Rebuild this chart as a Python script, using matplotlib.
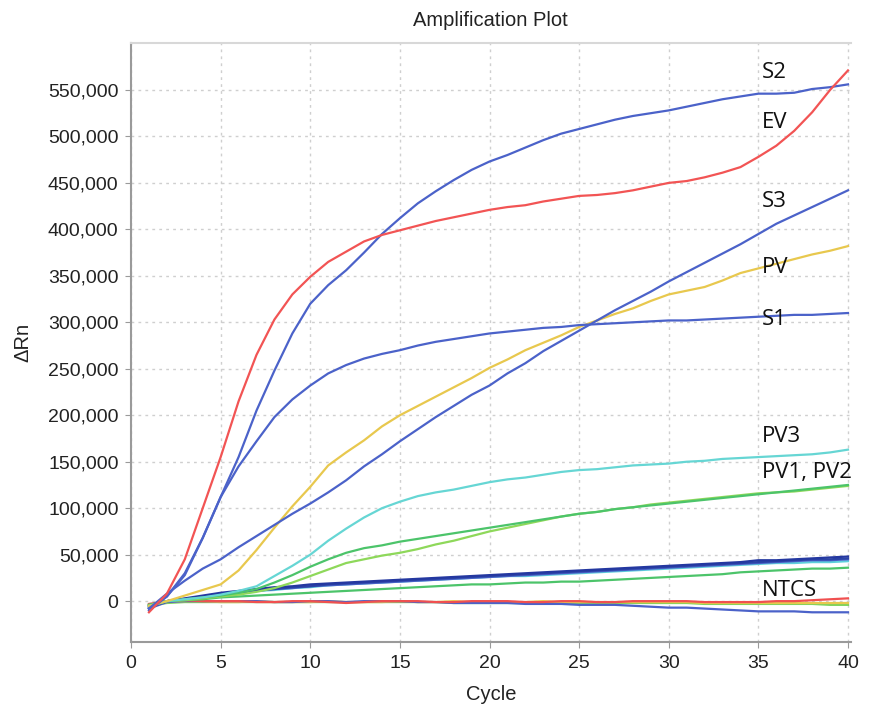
import matplotlib
matplotlib.use("Agg")
import numpy as np
from matplotlib import pyplot as plt
from matplotlib.ticker import FuncFormatter

plt.rcParams['font.family'] = ['Liberation Sans', 'DejaVu Sans']

# Amplification curves, delta Rn in thousands, cycles 1..40
cycles = np.arange(1, 41)

ev = [-12, 8, 45, 100, 155, 215, 265, 303, 330, 349, 365, 376, 387, 394, 399, 404, 409, 413, 417, 421,
      424, 426, 430, 433, 436, 437, 439, 442, 446, 450, 452, 456, 461, 467, 478, 490, 506, 526, 550, 571]
s2 = [-10, 5, 30, 68, 112, 155, 205, 248, 288, 320, 340, 356, 375, 395, 412, 428, 441, 453, 464, 473,
      480, 488, 496, 503, 508, 513, 518, 522, 525, 528, 532, 536, 540, 543, 546, 546, 547, 551, 553, 556]
s3 = [-8, 8, 22, 35, 45, 58, 70, 82, 94, 105, 117, 130, 145, 158, 172, 185, 198, 210, 222, 232,
      245, 256, 269, 280, 291, 302, 313, 323, 333, 344, 354, 364, 374, 384, 395, 406, 415, 424, 433, 442]
s1 = [-8, 5, 28, 68, 112, 145, 172, 198, 217, 232, 245, 254, 261, 266, 270, 275, 279, 282, 285, 288,
      290, 292, 294, 295, 297, 298, 299, 300, 301, 302, 302, 303, 304, 305, 306, 307, 308, 308, 309, 310]
pv = [-5, 0, 6, 12, 18, 33, 55, 79, 102, 123, 146, 160, 173, 188, 200, 210, 220, 230, 240, 251,
      260, 270, 278, 286, 295, 302, 309, 315, 323, 330, 334, 338, 345, 353, 358, 363, 368, 373, 377, 382]
pv3 = [-5, 0, 2, 4, 7, 11, 16, 27, 38, 50, 65, 78, 90, 100, 107, 113, 117, 120, 124, 128,
       131, 133, 136, 139, 141, 142, 144, 146, 147, 148, 150, 151, 153, 154, 155, 156, 157, 158, 160, 163]
pv1 = [-4, 0, 2, 4, 6, 9, 13, 20, 28, 37, 45, 52, 57, 60, 64, 67, 70, 73, 76, 79,
       82, 85, 88, 91, 94, 96, 99, 101, 103, 105, 107, 109, 111, 113, 115, 117, 119, 121, 123, 125]
pv2 = [-6, 0, 1, 3, 5, 7, 10, 14, 20, 27, 34, 41, 45, 49, 52, 56, 61, 65, 70, 75,
       79, 83, 87, 91, 94, 96, 99, 101, 104, 106, 108, 110, 112, 114, 116, 117, 118, 120, 122, 124]

# low-level curves
low_blue_a = [-5, 0, 3, 6, 9, 11, 13, 15, 16, 18, 19, 20, 21, 22, 23, 24, 25, 26, 27, 28,
              29, 30, 31, 32, 33, 34, 35, 36, 37, 38, 39, 40, 41, 42, 44, 44, 45, 46, 47, 48]
low_blue_b = [-7, 0, 2, 5, 8, 10, 12, 13, 15, 16, 18, 19, 20, 21, 22, 23, 24, 25, 26, 27,
              28, 29, 30, 31, 32, 33, 34, 35, 36, 37, 38, 39, 40, 41, 42, 43, 44, 45, 45, 46]
low_blue_c = [-6, 0, 2, 5, 7, 9, 11, 13, 14, 16, 17, 18, 19, 20, 21, 22, 23, 24, 25, 26,
              27, 28, 29, 30, 31, 32, 33, 34, 35, 36, 37, 38, 39, 40, 41, 42, 43, 44, 44, 45]
low_cyan = [-5, 0, 2, 4, 7, 9, 11, 12, 14, 15, 17, 18, 19, 20, 21, 22, 23, 24, 25, 26,
            27, 27, 28, 29, 30, 31, 32, 33, 34, 35, 36, 37, 38, 39, 40, 41, 41, 42, 42, 43]
low_green = [-4, 0, 1, 2, 4, 5, 6, 7, 8, 9, 10, 11, 12, 13, 14, 15, 16, 17, 18, 18,
             19, 20, 20, 21, 21, 22, 23, 24, 25, 26, 27, 28, 29, 31, 32, 33, 34, 35, 35, 36]

# no template controls
ntc_blue = [-8, -1, 0, 0, 0, 0, 0, -1, -1, 0, 0, -1, 0, 0, 0, -1, -1, -2, -2, -2,
            -2, -3, -3, -3, -4, -4, -4, -5, -6, -7, -7, -8, -9, -10, -11, -11, -11, -12, -12, -12]
ntc_red = [-3, 0, 1, 0, 0, 0, -1, -1, 0, 0, -1, -2, -1, 0, 0, 0, -1, -1, 0, 0,
           0, -1, -1, 0, 0, -1, -1, 0, 0, 0, 0, -1, -1, -1, -1, 0, 0, 1, 2, 3]
ntc_yellow = [-4, -1, 0, 0, -1, -1, 0, -1, -1, -1, 0, -1, -1, -1, 0, -1, -1, 0, -1, -1,
              -1, -1, 0, -1, -1, -1, -1, -1, -1, -1, -1, -2, -2, -2, -2, -2, -2, -2, -2, -2]
ntc_green = [-5, -2, -1, -1, -1, -1, -1, -1, -1, -1, -1, -1, -1, -1, -1, -1, -1, -2, -2, -2,
             -2, -2, -2, -2, -2, -2, -2, -2, -2, -2, -2, -3, -3, -3, -3, -3, -3, -3, -4, -4]

labels = ["S2", "EV", "S3", "PV", "S1", "PV3", "PV1, PV2", "NTCS"]
# baseline positions (cycle, thousands)
label_pos = [(35.2, 563), (35.2, 509), (35.2, 424), (35.2, 353), (35.2, 297),
             (35.2, 171), (35.2, 132), (35.2, 6)]

fig = plt.figure(figsize=(8.77, 7.11), dpi=100)
ax = fig.add_axes([0.1494, 0.097, 0.8206, 0.8425])

blue = '#4b62c9'
dblue = '#2b43a6'
lw = 1.6
k = 1000.0

ax.plot(cycles, np.array(ntc_green) * k, color='#7fd35c', lw=lw)
ax.plot(cycles, np.array(ntc_yellow) * k, color='#e8c84e', lw=lw)
ax.plot(cycles, np.array(ntc_blue) * k, color=blue, lw=lw)
ax.plot(cycles, np.array(ntc_red) * k, color='#f05050', lw=lw)

ax.plot(cycles, np.array(low_green) * k, color='#4cc46a', lw=lw)
ax.plot(cycles, np.array(low_cyan) * k, color='#5fd0dc', lw=lw)
ax.plot(cycles, np.array(low_blue_c) * k, color=blue, lw=lw)
ax.plot(cycles, np.array(low_blue_b) * k, color=dblue, lw=lw)
ax.plot(cycles, np.array(low_blue_a) * k, color='#2438a0', lw=lw)

ax.plot(cycles, np.array(pv2) * k, color='#8ed85a', lw=lw)
ax.plot(cycles, np.array(pv1) * k, color='#4cc46a', lw=lw)
ax.plot(cycles, np.array(pv3) * k, color='#66d6d4', lw=lw)
ax.plot(cycles, np.array(pv) * k, color='#e8c84e', lw=lw)
ax.plot(cycles, np.array(s1) * k, color=blue, lw=lw)
ax.plot(cycles, np.array(s3) * k, color=blue, lw=lw)
ax.plot(cycles, np.array(s2) * k, color=blue, lw=lw)
ax.plot(cycles, np.array(ev) * k, color='#f25454', lw=lw)

for txt, (x, y) in zip(labels, label_pos):
    ax.text(x, y * k, txt, fontsize=16, family=['Open Sans', 'DejaVu Sans'],
            color='#111111', ha='left', va='baseline')

ax.set_xlim(0, 40.15)
ax.set_ylim(-44000, 600500)
ax.set_xticks(range(0, 41, 5))
ax.set_yticks(range(0, 550001, 50000))
ax.yaxis.set_major_formatter(FuncFormatter(lambda v, p: '{:,.0f}'.format(v)))

ax.grid(True, color='#cfcfcf', linestyle=(0, (2, 3)), linewidth=1)
ax.set_axisbelow(True)

for side in ['left', 'bottom']:
    ax.spines[side].set_color('#9a9a9a')
    ax.spines[side].set_linewidth(1.5)
ax.spines['top'].set_color('#d8d8d8')
ax.spines['top'].set_linewidth(1.5)
ax.spines['right'].set_visible(False)

ax.tick_params(axis='both', direction='out', length=4, color='#9a9a9a', labelsize=14,
               labelcolor='#222222', pad=5)

ax.set_title("Amplification Plot", fontsize=14.5, color='#222222', pad=12)
ax.set_xlabel("Cycle", fontsize=14.5, color='#222222', labelpad=10)
ax.set_ylabel("\u0394Rn", fontsize=14.5, color='#222222', labelpad=11)

fig.savefig("out.png", dpi=100)
